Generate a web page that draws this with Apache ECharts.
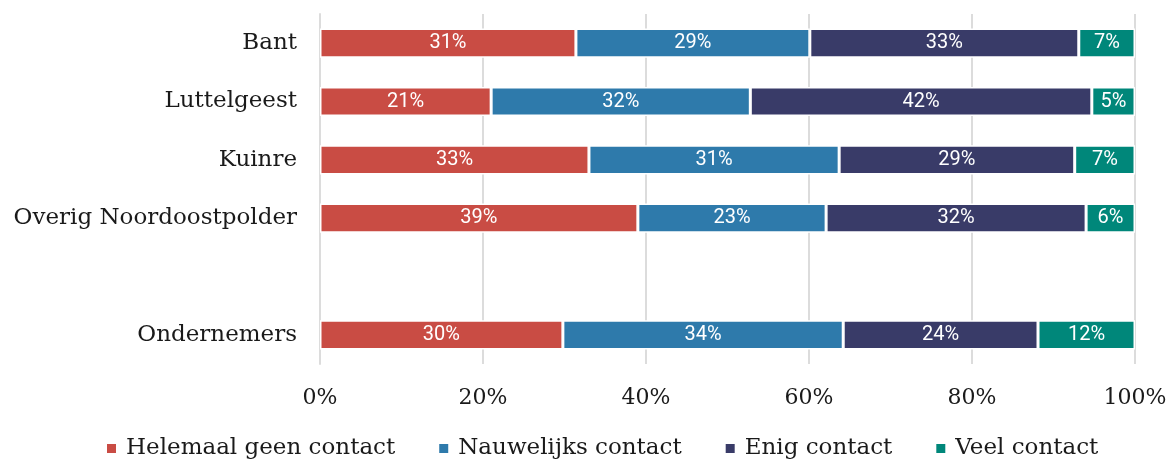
<!DOCTYPE html>
<html><head><meta charset="utf-8">
<script src="https://cdn.jsdelivr.net/npm/echarts@6/dist/echarts.min.js"></script>
<style>html,body{margin:0;padding:0;background:#fff}#c{width:1170px;height:462px}</style>
</head><body><div id="c"></div>
<script>
const categories = ['Bant', 'Luttelgeest', 'Kuinre', 'Overig Noordoostpolder', '', 'Ondernemers'];
const seriesNames = ['Helemaal geen contact', 'Nauwelijks contact', 'Enig contact', 'Veel contact'];
const helemaal = [31.4, 21.0, 33.0, 39.0, null, 29.8];
const nauwelijks = [28.7, 31.8, 30.7, 23.1, null, 34.4];
const enig = [33.0, 41.9, 28.9, 31.9, null, 23.9];
const veel = [6.9, 5.3, 7.4, 6.0, null, 11.9];
const xTicks = [0, 20, 40, 60, 80, 100];
const colors = ['#c94c44', '#2e7aab', '#393b68', '#00877a'];
const serif = 'DejaVu Serif';

const dataSets = [helemaal, nauwelijks, enig, veel];
const chart = echarts.init(document.getElementById('c'));
chart.setOption({
  animation: false,
  grid: { left: 320, right: 35, top: 14, bottom: 98, containLabel: false },
  legend: {
    bottom: -3, left: 100, itemWidth: 11, itemHeight: 11, itemGap: 42,
    icon: 'rect',
    textStyle: { fontFamily: serif, fontSize: 23, color: '#1a1a1a', padding: [0, 0, 0, 4] },
    data: seriesNames
  },
  xAxis: {
    type: 'value', min: 0, max: 100, interval: 20,
    axisLabel: { formatter: v => xTicks.includes(v) ? v + '%' : '', fontFamily: serif, fontSize: 22, color: '#1a1a1a', margin: 23 },
    splitLine: { show: true, lineStyle: { color: '#dcdcdc', width: 2 } },
    axisLine: { show: false }, axisTick: { show: false }
  },
  yAxis: {
    type: 'category', data: categories, inverse: true,
    axisLabel: { fontFamily: serif, fontSize: 23, color: '#1a1a1a', margin: 23 },
    axisLine: { show: true, lineStyle: { color: '#dcdcdc', width: 2 } },
    axisTick: { show: false }
  },
  series: seriesNames.map((n, i) => ({
    name: n, type: 'bar', stack: 'total', barWidth: '50%',
    data: dataSets[i],
    itemStyle: { color: colors[i], borderColor: '#fff', borderWidth: 1.5 },
    label: { show: true, position: 'inside', color: '#fff', fontFamily: 'Roboto', fontSize: 20,
      formatter: p => p.value == null ? '' : Math.round(p.value) + '%' }
  }))
});
</script></body></html>
